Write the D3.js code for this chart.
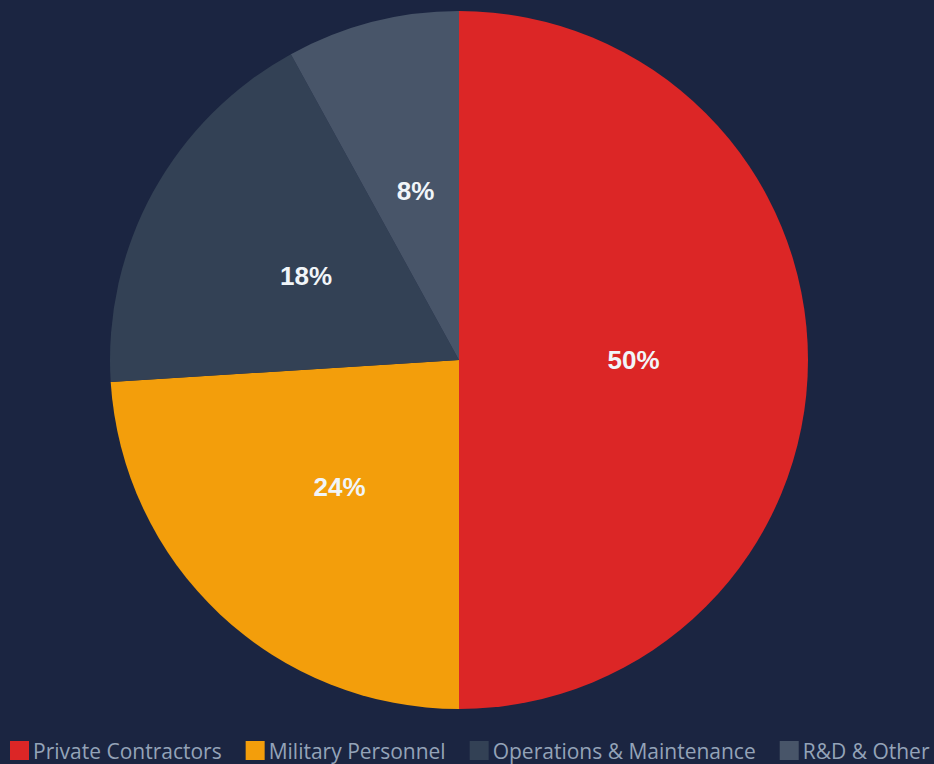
<!DOCTYPE html>
<html>
<head>
<meta charset="utf-8">
<script src="https://cdn.jsdelivr.net/npm/d3@7"></script>
<style>
  html, body { margin: 0; padding: 0; background: #1b2541; overflow: hidden; }
</style>
</head>
<body>
<svg id="chart" width="934" height="764"></svg>
<script>
// Spending breakdown
const categories = ["Private Contractors", "Military Personnel", "Operations & Maintenance", "R&D & Other"];
const shares = [50, 24, 18, 8];
const colors = ["#dc2626", "#f39e0b", "#334155", "#485569"];

const width = 934, height = 764;
const cx = 459, cy = 360, radius = 349;

const svg = d3.select("#chart");

svg.append("rect")
    .attr("width", width)
    .attr("height", height)
    .attr("fill", "#1b2541");

const data = categories.map((name, i) => ({ name, value: shares[i], color: colors[i] }));

const pie = d3.pie()
    .value(d => d.value)
    .sort(null);

const arc = d3.arc()
    .innerRadius(0)
    .outerRadius(radius);

const labelArc = d3.arc()
    .innerRadius(radius / 2)
    .outerRadius(radius / 2);

const g = svg.append("g")
    .attr("transform", `translate(${cx},${cy})`);

const arcs = pie(data);

g.selectAll("path")
    .data(arcs)
    .enter()
    .append("path")
    .attr("d", arc)
    .attr("fill", d => d.data.color);

g.selectAll("text")
    .data(arcs)
    .enter()
    .append("text")
    .attr("transform", d => `translate(${labelArc.centroid(d)})`)
    .attr("text-anchor", "middle")
    .attr("dy", "0.35em")
    .attr("font-family", "'Liberation Sans', Arial, sans-serif")
    .attr("font-weight", "bold")
    .attr("font-size", "26px")
    .attr("fill", "#f1f5f9")
    .text(d => d.data.value + "%");

// Legend along the bottom
const legend = svg.append("g")
    .attr("transform", "translate(10, 741)");

let x = 0;
data.forEach(d => {
    const item = legend.append("g").attr("transform", `translate(${x},0)`);
    item.append("rect")
        .attr("width", 19)
        .attr("height", 19)
        .attr("fill", d.color);
    const t = item.append("text")
        .attr("x", 23)
        .attr("y", 18)
        .attr("font-family", "'Open Sans', sans-serif")
        .attr("font-size", "21px")
        .attr("fill", "#94a3b8")
        .text(d.name);
    x += 23 + t.node().getComputedTextLength() + 24;
});
</script>
</body>
</html>
